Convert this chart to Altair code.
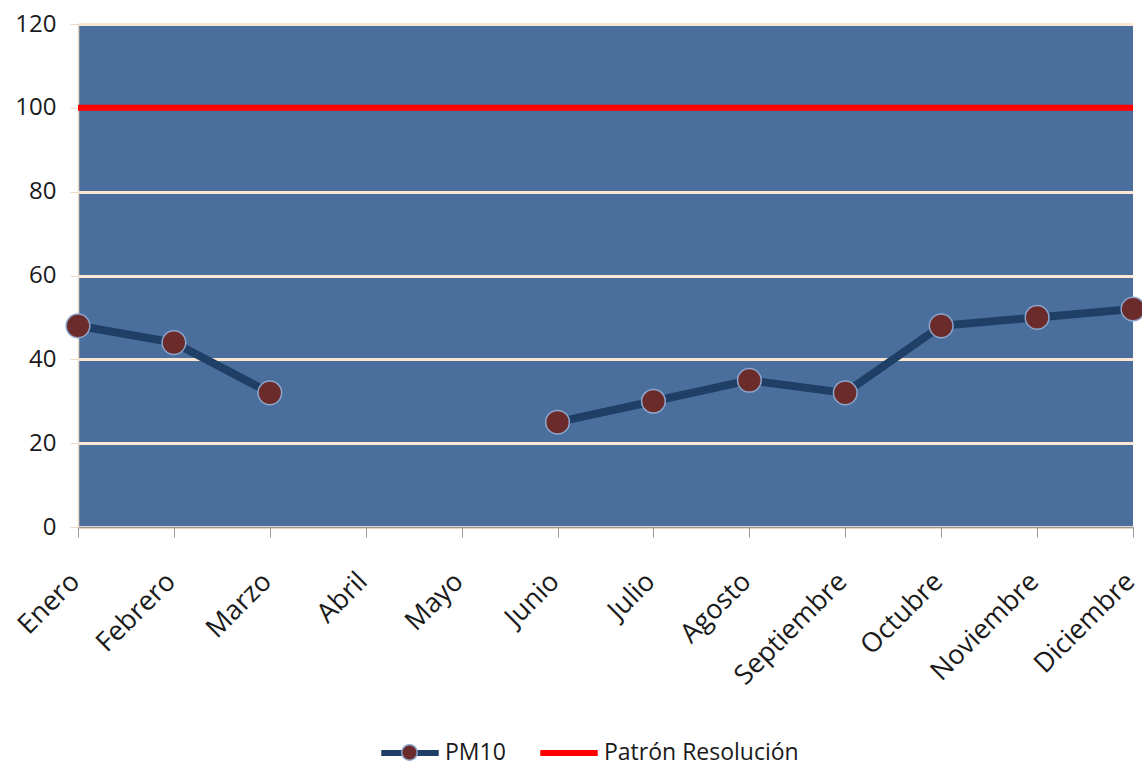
import altair as alt
import pandas as pd

months = ["Enero", "Febrero", "Marzo", "Abril", "Mayo", "Junio", "Julio",
          "Agosto", "Septiembre", "Octubre", "Noviembre", "Diciembre"]
pm10 = [48, 44, 32, None, None, 25, 30, 35, 32, 48, 50, 52]
patron = [100] * 12
series_names = ["PM10", "Patrón Resolución"]
y_ticks = [0, 20, 40, 60, 80, 100, 120]

df = pd.DataFrame({
    "mes": months * 2,
    "valor": pm10 + patron,
    "serie": [series_names[0]] * 12 + [series_names[1]] * 12,
})

FONT = "Open Sans"
TXT = "#1a1a1a"

x_enc = alt.X("mes:N", sort=months,
              scale=alt.Scale(domain=months, type="point", padding=0),
              axis=alt.Axis(title=None, labelAngle=-45, labelAlign="right",
                            labelBaseline="middle", labelFontSize=27,
                            labelFont=FONT, labelColor=TXT,
                            labelPadding=40, labelOffset=-3,
                            tickSize=10, tickColor="#999999",
                            domainColor="#999999", domainWidth=1.5,
                            grid=False))
y_enc = alt.Y("valor:Q",
              scale=alt.Scale(domain=[0, 120], nice=False),
              axis=alt.Axis(title=None, values=y_ticks, labelFontSize=24,
                            labelFont=FONT, labelColor=TXT,
                            labelPadding=14, tickSize=8, tickColor="#EBDCC6",
                            domainColor="#EBDCC6", domainWidth=1.5,
                            grid=True, gridColor="#FCE8D2", gridWidth=3,
                            gridOpacity=1))

LX = 300

color_enc = alt.Color("serie:N",
                      scale=alt.Scale(domain=series_names,
                                      range=["#1F3F66", "#FF0000"]),
                      legend=alt.Legend(title=None, orient="none",
                                        direction="horizontal",
                                        legendX=LX, legendY=697,
                                        symbolType="stroke",
                                        symbolStrokeWidth=6, symbolSize=3300,
                                        labelFontSize=23, labelFont=FONT,
                                        labelColor=TXT, labelLimit=0,
                                        columnPadding=22, labelOffset=3))

fill_enc = alt.Fill("serie:N",
                    scale=alt.Scale(domain=[series_names[0]],
                                    range=["#6B2B2B"]),
                    legend=alt.Legend(title=None, orient="none",
                                      direction="horizontal",
                                      legendX=LX + 23, legendY=720,
                                      symbolType="circle", symbolSize=240,
                                      symbolStrokeColor="#8EA6CB",
                                      symbolStrokeWidth=1.5,
                                      symbolOpacity=1,
                                      labelExpr="''"))

base = alt.Chart(df)

red = base.transform_filter(alt.datum.serie == series_names[1]).mark_line(
    strokeWidth=6).encode(x=x_enc, y=y_enc, color=color_enc)

line = base.transform_filter(alt.datum.serie == series_names[0]).mark_line(
    strokeWidth=8, invalid="break-paths-show-domains").encode(
    x=x_enc, y=y_enc, color=color_enc)

pts = base.transform_filter(
    (alt.datum.serie == series_names[0]) & alt.expr.isValid(alt.datum.valor)
).mark_point(filled=True, size=560, stroke="#8EA6CB",
             strokeWidth=1.5, opacity=1).encode(x=x_enc, y=y_enc,
                                                 fill=fill_enc)

chart = alt.layer(red, line, pts).properties(
    width=1055, height=503,
    autosize=alt.AutoSizeParams(type="none"),
    padding={"left": 78, "top": 24, "right": 9, "bottom": 238},
    background="white",
).configure_view(fill="#4B6F9D", stroke=None)

chart.save("out.html", embed_options={"renderer": "svg", "actions": False})
